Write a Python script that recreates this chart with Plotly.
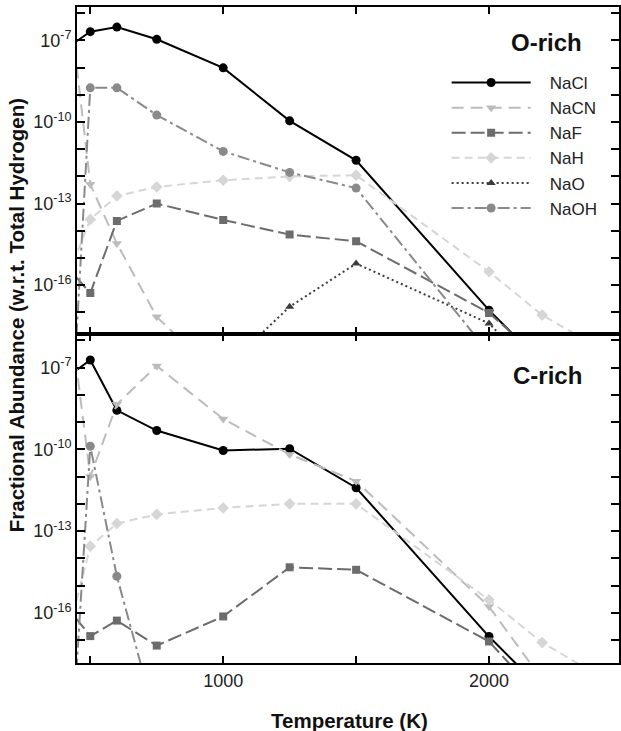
import plotly.graph_objects as go

# ---------------- data ----------------
temperature = [400, 500, 600, 750, 1000, 1250, 1500, 2000, 2200, 2500]

species = ["NaCl", "NaCN", "NaF", "NaH", "NaO", "NaOH"]

# O-rich
o_nacl = [4.4e-8, 2.1e-7, 3.1e-7, 1.1e-7, 9.8e-9, 1.1e-10, 3.9e-12, 1.2e-17, 1.3e-19, None]
o_nacn = [1.6e-4, 5.1e-13, 3.4e-15, 6.8e-18, 3.2e-20, None, None, None, None, None]
o_naf = [6.3e-16, 5.1e-17, 2.3e-14, 1.0e-13, 2.5e-14, 7.2e-15, 4.1e-15, 9.5e-18, 1.8e-19, None]
o_nah = [8.7e-17, 2.6e-14, 1.9e-13, 4.1e-13, 7.2e-13, 1.0e-12, 1.1e-12, 3.1e-16, 7.9e-18, 1.6e-19]
o_nao = [None, None, None, None, 7.6e-20, 1.6e-17, 6.2e-16, 3.9e-18, 4.0e-20, None]
o_naoh = [5.0e-27, 1.8e-9, 1.8e-9, 1.8e-10, 8.3e-12, 1.4e-12, 3.7e-13, 3.2e-19, None, None]

# C-rich
c_nacl = [3.7e-8, 1.9e-7, 2.7e-9, 4.9e-10, 9.1e-11, 1.05e-10, 3.9e-12, 1.35e-17, 1.5e-19, None]
c_nacn = [5.8e-4, 1.0e-11, 4.5e-9, 1.15e-7, 1.3e-9, 6.5e-11, 6.8e-12, 1.7e-16, 3.6e-19, None]
c_naf = [2.3e-16, 1.4e-17, 5.2e-17, 6.3e-18, 7.4e-17, 4.7e-15, 3.8e-15, 8.9e-18, 6.6e-20, None]
c_nah = [4.0e-18, 2.75e-14, 1.9e-13, 4.1e-13, 7.1e-13, 1.0e-12, 1.0e-12, 3.0e-16, 8.1e-18, 1.6e-19]
c_nao = [None] * 10
c_naoh = [2.0e-26, 1.3e-10, 2.2e-15, 9.3e-21, None, None, None, None, None, None]

x_tick_vals = [500, 1000, 1500, 2000, 2500]
x_tick_text = ["", "1000", "", "2000", ""]
y_tick_exps = list(range(-17, -5))
y_label_exps = [-16, -13, -10, -7]

# ---------------- styles ----------------
styles = {
    "NaCl": dict(color="#000000", dash="solid", symbol="circle", size=9),
    "NaCN": dict(color="#bcbcbc", dash="12px,7px", symbol="triangle-down", size=9),
    "NaF": dict(color="#6c6c6c", dash="14px,5px", symbol="square", size=8),
    "NaH": dict(color="#d6d6d6", dash="8px,5px", symbol="diamond", size=9),
    "NaO": dict(color="#3c3c3c", dash="2px,3px", symbol="triangle-up", size=8),
    "NaOH": dict(color="#8a8a8a", dash="12px,4px,3px,4px", symbol="circle", size=9),
}

o_data = [o_nacl, o_nacn, o_naf, o_nah, o_nao, o_naoh]
c_data = [c_nacl, c_nacn, c_naf, c_nah, c_nao, c_naoh]

FONT = "Liberation Sans, Arial, sans-serif"

fig = go.Figure()
NB = "\u00a0"
for panel, data, xa, ya in [("O", o_data, "x", "y"), ("C", c_data, "x2", "y2")]:
    for name, vals in zip(species, data):
        st = styles[name]
        fig.add_trace(go.Scatter(
            x=temperature, y=vals, mode="lines+markers",
            name=NB * 3 + name,
            showlegend=(panel == "O"),
            line=dict(color=st["color"], dash=st["dash"], width=2),
            marker=dict(symbol=st["symbol"], size=st["size"], color=st["color"]),
            connectgaps=False, xaxis=xa, yaxis=ya, cliponaxis=True,
        ))

L, R, T_, B = 77, 0, 7, 68
PW = 621 - L - R
PH = 731 - T_ - B
x_max = 450 + PW * (2039.0 / 544)


def px_x(p):
    return (p - L) / PW


def px_y(p):
    return (731 - B - p) / PH


split = px_y(333.5)

y_tickvals = [10.0 ** e for e in y_tick_exps]
y_ticktext = [("10<sup>%d</sup>" % e) if e in y_label_exps else "" for e in y_tick_exps]

xcommon = dict(range=[450, x_max], showline=True, linecolor="black", linewidth=2,
               mirror="ticks", ticks="inside", ticklen=7, tickwidth=1.5, tickcolor="black",
               tickvals=x_tick_vals, ticktext=x_tick_text, showgrid=False, zeroline=False,
               tickfont=dict(family=FONT, size=18, color="#222"))
ycommon = dict(type="log", showline=True, linecolor="black", linewidth=2,
               mirror="allticks", ticks="inside", ticklen=8,
               tickwidth=2, tickcolor="black", tickvals=y_tickvals, ticktext=y_ticktext,
               showgrid=False, zeroline=False,
               tickfont=dict(family=FONT, size=18, color="#222"))

fig.update_layout(
    width=621, height=731,
    margin=dict(l=L, r=R, t=T_, b=B),
    paper_bgcolor="white", plot_bgcolor="white",
    showlegend=True,
    xaxis=dict(xcommon, anchor="y", showticklabels=False),
    yaxis=dict(ycommon, domain=[split, 1], anchor="x", range=[-17.78, -5.77]),
    xaxis2=dict(xcommon, anchor="y2", matches="x"),
    yaxis2=dict(ycommon, domain=[0, split], anchor="x2", range=[-17.84, -5.75]),
    legend=dict(x=px_x(448), y=px_y(65), xanchor="left", yanchor="top",
                bgcolor="rgba(0,0,0,0)", borderwidth=0, itemwidth=79,
                font=dict(family=FONT, size=17, color="#222"), tracegroupgap=0),
    annotations=[
        dict(text="<b>O-rich</b>", x=px_x(586), y=px_y(42.7), xref="paper", yref="paper",
             xanchor="right", yanchor="middle", showarrow=False,
             font=dict(family=FONT, size=24, color="#111")),
        dict(text="<b>C-rich</b>", x=px_x(586), y=px_y(375), xref="paper", yref="paper",
             xanchor="right", yanchor="middle", showarrow=False,
             font=dict(family=FONT, size=24, color="#111")),
        dict(text="<b>Temperature (K)</b>", x=px_x(351), y=px_y(720),
             xref="paper", yref="paper", xanchor="center", yanchor="middle", showarrow=False,
             font=dict(family=FONT, size=20.5, color="#111")),
        dict(text="<b>Fractional Abundance (w.r.t. Total Hydrogen)</b>", x=px_x(16),
             y=px_y(315), xref="paper", yref="paper", xanchor="center",
             yanchor="middle", showarrow=False, textangle=-90,
             font=dict(family=FONT, size=20.5, color="#111")),
    ],
)

fig.write_html("out.html", config={"displayModeBar": False},
               post_script="document.body.style.margin='0';document.body.style.overflow='hidden';")
